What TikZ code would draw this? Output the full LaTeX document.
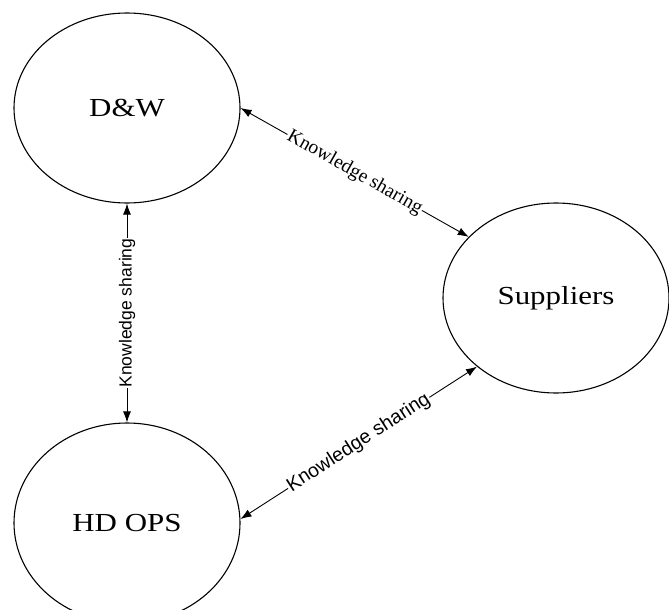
\documentclass[tikz,border=0pt]{standalone}
\usepackage{fontspec}
\setmainfont{Liberation Serif}
\setsansfont{Liberation Sans}
\usetikzlibrary{shapes.geometric,arrows.meta}
\tikzset{
  party/.style={draw, ellipse, line width=1.1pt, minimum width=226pt,
    minimum height=190pt, inner sep=0pt, font=\fontsize{26}{30}\selectfont},
  link/.style={line width=0.9pt,
    {Latex[length=11pt,width=8pt]}-{Latex[length=11pt,width=8pt]}},
  tag/.style={fill=white, inner sep=1pt, font=\fontsize{19.5}{22}\selectfont},
  sanstag/.style={tag, font=\sffamily\fontsize{17.5}{20}\selectfont},
}
\newcommand{\widetext}[1]{\scalebox{1.19}[1]{#1}}
\begin{document}
\begin{tikzpicture}[x=1pt, y=-1pt]
  \useasboundingbox (0,0) rectangle (669,610);
  % the three parties
  \node[party] (dw)  at (127,108) {\widetext{D\&W}};
  \node[party] (hd)  at (127,523) [minimum height=200pt] {\widetext{HD OPS}};
  \node[party] (sup) at (556,298) {\widetext{Suppliers}};
  % two-way knowledge flows
  \draw[link] (dw.east) -- node[tag, sloped] {Knowledge sharing} (sup.145);
  \draw[link] (dw.south) -- node[sanstag, rotate=90] {Knowledge sharing} (hd.north);
  \draw[link] (hd.2) -- node[sanstag, sloped, font=\sffamily\fontsize{19.5}{22}\selectfont] {Knowledge sharing} (sup.221);
\end{tikzpicture}
\end{document}
